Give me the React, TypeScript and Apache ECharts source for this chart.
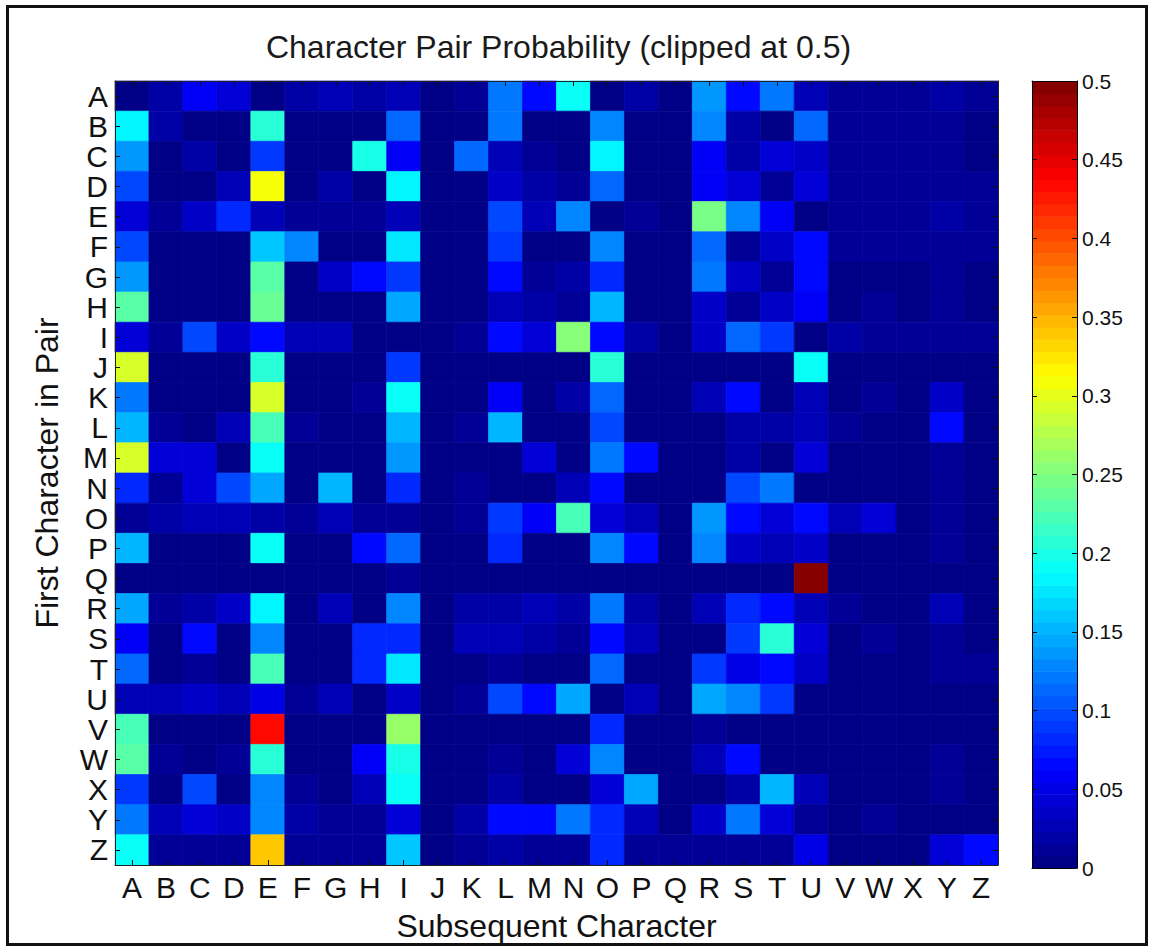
import React, { useEffect, useRef } from "react";
import * as echarts from "echarts";

const letters = ["A","B","C","D","E","F","G","H","I","J","K","L","M","N","O","P","Q","R","S","T","U","V","W","X","Y","Z"];

// Row = first character, columns = subsequent character A..Z
const rowA = [0.005,0.02,0.06,0.04,0.005,0.02,0.03,0.02,0.03,0.003,0.015,0.12,0.07,0.19,0.005,0.02,0.005,0.14,0.065,0.12,0.03,0.015,0.012,0.008,0.018,0.008];
const rowB = [0.18,0.02,0.003,0.003,0.21,0.003,0.003,0.003,0.11,0.003,0.003,0.12,0.005,0.005,0.13,0.003,0.003,0.125,0.02,0.003,0.11,0.008,0.008,0.008,0.015,0.005];
const rowC = [0.14,0.003,0.02,0.003,0.09,0.003,0.003,0.2,0.06,0.003,0.11,0.03,0.008,0.005,0.185,0.003,0.003,0.06,0.02,0.045,0.035,0.008,0.008,0.008,0.012,0.005];
const rowD = [0.1,0.003,0.003,0.025,0.31,0.003,0.02,0.003,0.185,0.003,0.003,0.035,0.02,0.015,0.11,0.003,0.003,0.06,0.045,0.015,0.04,0.008,0.012,0.008,0.015,0.008];
const rowE = [0.04,0.015,0.035,0.08,0.025,0.015,0.015,0.015,0.025,0.003,0.003,0.1,0.025,0.125,0.005,0.012,0.003,0.245,0.125,0.06,0.005,0.012,0.012,0.012,0.02,0.008];
const rowF = [0.1,0.003,0.003,0.003,0.16,0.125,0.003,0.003,0.175,0.003,0.003,0.09,0.005,0.005,0.13,0.003,0.003,0.11,0.01,0.035,0.065,0.008,0.008,0.008,0.01,0.008];
const rowG = [0.14,0.003,0.003,0.003,0.23,0.003,0.035,0.065,0.09,0.003,0.003,0.065,0.012,0.02,0.08,0.003,0.003,0.12,0.035,0.012,0.065,0.005,0.005,0.005,0.012,0.005];
const rowH = [0.23,0.003,0.003,0.003,0.235,0.003,0.003,0.003,0.145,0.003,0.003,0.025,0.02,0.015,0.155,0.003,0.003,0.035,0.012,0.035,0.055,0.005,0.01,0.005,0.015,0.005];
const rowI = [0.045,0.015,0.1,0.035,0.07,0.025,0.03,0.003,0.003,0.003,0.01,0.07,0.04,0.25,0.065,0.02,0.003,0.035,0.11,0.09,0.003,0.02,0.008,0.008,0.008,0.015];
const rowJ = [0.29,0.003,0.003,0.003,0.21,0.003,0.003,0.003,0.09,0.003,0.003,0.003,0.003,0.005,0.21,0.003,0.003,0.003,0.003,0.003,0.19,0.005,0.005,0.005,0.005,0.005];
const rowK = [0.12,0.003,0.003,0.003,0.29,0.003,0.003,0.015,0.195,0.003,0.003,0.06,0.005,0.02,0.11,0.003,0.003,0.025,0.065,0.005,0.03,0.005,0.012,0.005,0.035,0.005];
const rowL = [0.15,0.012,0.003,0.025,0.22,0.012,0.003,0.003,0.155,0.003,0.012,0.15,0.003,0.005,0.1,0.003,0.003,0.005,0.02,0.018,0.025,0.01,0.005,0.005,0.065,0.005];
const rowM = [0.29,0.045,0.045,0.003,0.19,0.003,0.003,0.003,0.14,0.003,0.003,0.003,0.045,0.005,0.12,0.065,0.003,0.005,0.018,0.005,0.04,0.005,0.005,0.005,0.01,0.005];
const rowN = [0.08,0.012,0.045,0.1,0.145,0.003,0.155,0.003,0.08,0.003,0.015,0.003,0.003,0.025,0.065,0.003,0.003,0.005,0.1,0.12,0.005,0.005,0.005,0.005,0.012,0.005];
const rowO = [0.008,0.018,0.03,0.025,0.02,0.015,0.025,0.01,0.01,0.003,0.01,0.09,0.06,0.22,0.045,0.025,0.003,0.14,0.065,0.045,0.07,0.025,0.045,0.005,0.012,0.005];
const rowP = [0.15,0.003,0.003,0.003,0.195,0.003,0.003,0.065,0.11,0.003,0.003,0.08,0.003,0.005,0.125,0.065,0.003,0.13,0.035,0.025,0.035,0.005,0.005,0.005,0.01,0.005];
const rowQ = [0.003,0.003,0.003,0.003,0.003,0.003,0.003,0.003,0.01,0.003,0.003,0.003,0.003,0.003,0.003,0.003,0.003,0.003,0.003,0.003,0.5,0.003,0.003,0.003,0.003,0.003];
const rowR = [0.145,0.015,0.02,0.035,0.18,0.003,0.025,0.003,0.13,0.003,0.018,0.018,0.025,0.02,0.12,0.018,0.003,0.03,0.08,0.065,0.025,0.012,0.005,0.005,0.025,0.005];
const rowS = [0.06,0.005,0.07,0.003,0.13,0.003,0.003,0.08,0.08,0.003,0.025,0.025,0.02,0.012,0.07,0.025,0.003,0.003,0.09,0.205,0.04,0.005,0.012,0.005,0.015,0.005];
const rowT = [0.11,0.003,0.01,0.003,0.22,0.003,0.003,0.08,0.175,0.003,0.003,0.015,0.003,0.005,0.11,0.003,0.003,0.09,0.05,0.065,0.035,0.005,0.005,0.005,0.015,0.015];
const rowU = [0.025,0.025,0.035,0.03,0.05,0.015,0.03,0.003,0.035,0.003,0.012,0.1,0.065,0.145,0.005,0.025,0.003,0.145,0.13,0.09,0.003,0.003,0.003,0.003,0.003,0.003];
const rowV = [0.22,0.003,0.003,0.003,0.43,0.003,0.003,0.003,0.26,0.003,0.003,0.003,0.003,0.003,0.08,0.003,0.003,0.01,0.003,0.003,0.003,0.003,0.003,0.003,0.003,0.003];
const rowW = [0.23,0.01,0.003,0.012,0.205,0.003,0.003,0.06,0.2,0.003,0.003,0.015,0.003,0.04,0.125,0.003,0.003,0.025,0.065,0.003,0.003,0.003,0.003,0.003,0.01,0.003];
const rowX = [0.09,0.003,0.1,0.003,0.13,0.01,0.003,0.025,0.19,0.003,0.003,0.018,0.003,0.005,0.045,0.145,0.003,0.003,0.02,0.155,0.03,0.003,0.003,0.003,0.015,0.003];
const rowY = [0.12,0.025,0.045,0.035,0.13,0.018,0.015,0.015,0.045,0.003,0.018,0.07,0.07,0.12,0.08,0.03,0.003,0.035,0.12,0.04,0.015,0.003,0.01,0.003,0.003,0.003];
const rowZ = [0.19,0.015,0.01,0.01,0.34,0.012,0.012,0.008,0.16,0.003,0.015,0.02,0.015,0.012,0.08,0.008,0.008,0.008,0.008,0.008,0.05,0.003,0.003,0.003,0.04,0.07];

const matrix = [rowA,rowB,rowC,rowD,rowE,rowF,rowG,rowH,rowI,rowJ,rowK,rowL,rowM,rowN,rowO,rowP,rowQ,rowR,rowS,rowT,rowU,rowV,rowW,rowX,rowY,rowZ];

const clipMax = 0.5;
const colorbarStep = 0.05;
const LEVELS = 64;

// jet colormap (64 levels)
function jet(t: number): string {
  const c = (x: number) => Math.max(0, Math.min(1, x));
  const r = c(1.5 - Math.abs(4 * t - 3));
  const g = c(1.5 - Math.abs(4 * t - 2));
  const b = c(1.5 - Math.abs(4 * t - 1));
  return `rgb(${Math.round(r * 255)},${Math.round(g * 255)},${Math.round(b * 255)})`;
}
const jetColors: string[] = [];
for (let i = 0; i < LEVELS; i++) jetColors.push(jet((i + 0.5) / LEVELS));

const FONT = "'Liberation Sans', Arial, sans-serif";

export default function App() {
  const ref = useRef<HTMLDivElement>(null);

  useEffect(() => {
    if (!ref.current) return;
    const chart = echarts.init(ref.current, null, { renderer: "svg" });

    const heatData: number[][] = [];
    matrix.forEach((row, yi) => row.forEach((v, xi) => heatData.push([xi, yi, v])));

    const step = clipMax / LEVELS;
    const pieces = jetColors.map((color, i) =>
      i === LEVELS - 1
        ? { gte: i * step, lte: clipMax + 1, color }
        : { gte: i * step, lt: (i + 1) * step, color }
    );
    const bands = jetColors.map((_, i) => [i * step, (i + 1) * step]);

    const gL = 115, gT = 81, gW = 883, gH = 787;
    const cbL = 1032, cbW = 45;

    const tickStyle = { color: "#111", width: 1 };
    const lineStyle = { color: "#222", width: 1 };

    const option: any = {
      animation: false,
      backgroundColor: "#fff",
      textStyle: { fontFamily: FONT },
      grid: [
        { left: gL, top: gT, width: gW, height: gH },
        { left: cbL, top: gT, width: cbW, height: gH },
      ],
      visualMap: {
        type: "piecewise",
        show: false,
        seriesIndex: 0,
        dimension: 2,
        pieces,
      },
      xAxis: [
        {
          type: "category", data: letters, gridIndex: 0, position: "bottom", z: 10,
          axisLine: { show: true, lineStyle },
          axisTick: { show: true, inside: true, interval: 0, alignWithLabel: true, length: 5, lineStyle: tickStyle },
          axisLabel: { interval: 0, fontSize: 30, color: "#111", margin: 7, fontFamily: FONT },
          splitLine: { show: false },
          name: "Subsequent Character", nameLocation: "middle", nameGap: 45,
          nameTextStyle: { fontSize: 32, color: "#111", fontFamily: FONT },
        },
        {
          type: "category", data: letters, gridIndex: 0, position: "top", z: 10,
          axisLine: { show: true, lineStyle },
          axisTick: { show: true, inside: true, interval: 0, alignWithLabel: true, length: 5, lineStyle: tickStyle },
          axisLabel: { show: false, interval: 0 },
          splitLine: { show: false },
        },
        {
          type: "value", gridIndex: 1, min: 0, max: 1, position: "bottom", z: 10,
          axisLine: { show: true, onZero: false, lineStyle: { color: "#000", width: 1 } },
          axisTick: { show: false }, axisLabel: { show: false }, splitLine: { show: false },
        },
        {
          type: "value", gridIndex: 1, min: 0, max: 1, position: "top", z: 10,
          axisLine: { show: true, onZero: false, lineStyle: { color: "#000", width: 1 } },
          axisTick: { show: false }, axisLabel: { show: false }, splitLine: { show: false },
        },
      ],
      yAxis: [
        {
          type: "category", data: letters, inverse: true, gridIndex: 0, position: "left", z: 10,
          axisLine: { show: true, lineStyle },
          axisTick: { show: true, inside: true, interval: 0, alignWithLabel: true, length: 5, lineStyle: tickStyle },
          axisLabel: { interval: 0, fontSize: 30, color: "#111", margin: 7, fontFamily: FONT },
          splitLine: { show: false },
          name: "First Character in Pair", nameLocation: "middle", nameGap: 52,
          nameTextStyle: { fontSize: 32, color: "#111", fontFamily: FONT },
        },
        {
          type: "category", data: letters, inverse: true, gridIndex: 0, position: "right", z: 10,
          axisLine: { show: true, lineStyle },
          axisTick: { show: true, inside: true, interval: 0, alignWithLabel: true, length: 5, lineStyle: tickStyle },
          axisLabel: { show: false, interval: 0 },
          splitLine: { show: false },
        },
        {
          type: "value", gridIndex: 1, min: 0, max: clipMax, interval: colorbarStep, position: "right", z: 10,
          axisLine: { show: true, onZero: false, lineStyle: { color: "#000", width: 1 } },
          axisTick: { show: true, inside: true, length: 5, lineStyle: tickStyle },
          axisLabel: { fontSize: 21, color: "#111", margin: 5, fontFamily: FONT },
          splitLine: { show: false },
        },
        {
          type: "value", gridIndex: 1, min: 0, max: clipMax, interval: colorbarStep, position: "left", z: 10,
          axisLine: { show: true, onZero: false, lineStyle: { color: "#000", width: 1 } },
          axisTick: { show: true, inside: true, length: 5, lineStyle: tickStyle },
          axisLabel: { show: false },
          splitLine: { show: false },
        },
      ],
      series: [
        {
          type: "custom",
          name: "probability",
          xAxisIndex: 0,
          yAxisIndex: 0,
          data: heatData,
          encode: { x: 0, y: 1 },
          silent: true,
          renderItem: (params: any, api: any) => {
            const c = api.coord([api.value(0), api.value(1)]);
            const s = api.size([1, 1]);
            const color = api.visual("color");
            return {
              type: "rect",
              shape: { x: c[0] - s[0] / 2, y: c[1] - s[1] / 2, width: s[0], height: s[1] },
              style: { fill: color, stroke: color, lineWidth: 0.7 },
            };
          },
        },
        {
          type: "custom",
          name: "colorbar",
          xAxisIndex: 2,
          yAxisIndex: 2,
          data: bands,
          silent: true,
          renderItem: (params: any, api: any) => {
            const lo = api.value(0);
            const hi = api.value(1);
            const p0 = api.coord([0, hi]);
            const p1 = api.coord([1, lo]);
            return {
              type: "rect",
              shape: { x: p0[0], y: p0[1], width: p1[0] - p0[0], height: p1[1] - p0[1] + 0.6 },
              style: { fill: jetColors[params.dataIndex] },
            };
          },
        },
      ],
      graphic: [
        {
          type: "text",
          x: gL + gW / 2 + 2,
          y: 47,
          style: {
            text: "Character Pair Probability (clipped at 0.5)",
            fontSize: 32,
            fontFamily: FONT,
            fill: "#1a1a1a",
            textAlign: "center",
            textVerticalAlign: "middle",
          },
        },
        {
          type: "rect",
          shape: { x: 7.5, y: 6.5, width: 1139, height: 938 },
          style: { fill: "none", stroke: "#111", lineWidth: 3 },
          z: 100,
        },
      ],
    };

    chart.setOption(option);
    return () => chart.dispose();
  }, []);

  return (
    <div
      ref={ref}
      style={{ position: "absolute", left: 0, top: 0, width: 1150, height: 947, background: "#fff" }}
    />
  );
}
